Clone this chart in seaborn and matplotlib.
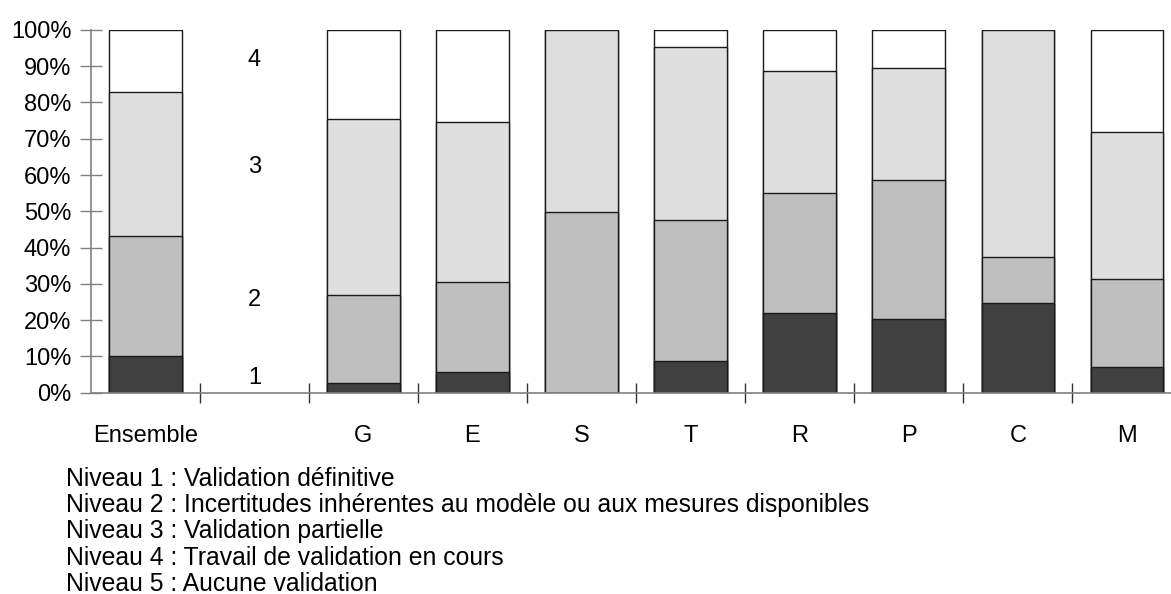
import matplotlib
matplotlib.use("Agg")
import matplotlib.pyplot as plt
import numpy as np
import pandas as pd
import seaborn as sns

# slots on the x axis (the blank one holds the level numbers)
slots = ["Ensemble", " ", "G", "E", "S", "T", "R", "P", "C", "M"]
groups = ["Ensemble", "G", "E", "S", "T", "R", "P", "C", "M"]

niveau1 = [10.1, 2.7, 5.8, 0.0, 8.7, 21.9, 20.4, 24.8, 7.2]
niveau2 = [33.1, 24.3, 24.8, 49.9, 38.9, 33.1, 38.2, 12.5, 24.2]
niveau3 = [39.8, 48.5, 44.1, 50.1, 47.7, 33.7, 30.8, 62.7, 40.5]
niveau4 = [17.0, 24.5, 25.3, 0.0, 4.7, 11.3, 10.6, 0.0, 28.1]

level_labels = ["1", "2", "3", "4"]
level_label_y = [4, 25.6, 62.3, 91.7]

legend_lines = [
    "Niveau 1 : Validation définitive",
    "Niveau 2 : Incertitudes inhérentes au modèle ou aux mesures disponibles",
    "Niveau 3 : Validation partielle",
    "Niveau 4 : Travail de validation en cours",
    "Niveau 5 : Aucune validation",
]

colors = ["#404040", "#bfbfbf", "#dfdfdf", "#ffffff"]
FS = 17

df = pd.DataFrame({"groupe": groups, "n1": niveau1, "n2": niveau2,
                   "n3": niveau3, "n4": niveau4})
df["c1"] = df["n1"]
df["c2"] = df["c1"] + df["n2"]
df["c3"] = df["c2"] + df["n3"]
df["c4"] = df["c3"] + df["n4"]

sns.set_style("white")
plt.rcParams["font.family"] = ["Liberation Sans", "DejaVu Sans"]
plt.rcParams["text.color"] = "black"
plt.rcParams["xtick.labelcolor"] = "black"
plt.rcParams["ytick.labelcolor"] = "black"

fig = plt.figure(figsize=(11.71, 5.94), dpi=100)
ax = fig.add_axes([0.0775, 0.339, 0.9314, 0.6106])

# overlay cumulative bars, tallest first
for col, color in zip(["c4", "c3", "c2", "c1"], colors[::-1]):
    sns.barplot(data=df, x="groupe", y=col, order=slots, color=color,
                width=0.665, edgecolor="#1a1a1a", linewidth=1.0,
                errorbar=None, saturation=1, ax=ax)

for lab, y in zip(level_labels, level_label_y):
    ax.text(1, y, lab, ha="center", va="center", fontsize=FS)

ax.set_xlim(-0.5, len(slots) - 0.5)
ax.set_ylim(0, 100)
ax.set_yticks(np.arange(0, 101, 10))
ax.set_yticklabels([f"{v}%" for v in range(0, 101, 10)], fontsize=FS)
ax.tick_params(axis="y", left=True, direction="inout", length=16, width=1,
               color="#808080", pad=6, labelcolor="black")

ax.set_xticks(range(len(slots)))
ax.set_xticklabels([s.strip() for s in slots], fontsize=FS)
ax.tick_params(axis="x", which="major", bottom=True, length=0, pad=23,
               labelcolor="black")
ax.set_xticks(np.arange(0.5, len(slots) - 0.5, 1), minor=True)
ax.tick_params(axis="x", which="minor", bottom=True, direction="inout",
               length=15, width=1, color="#333333")

ax.set_xlabel("")
ax.set_ylabel("")
for side in ["top", "right"]:
    ax.spines[side].set_visible(False)
for side in ["left", "bottom"]:
    ax.spines[side].set_color("#808080")
    ax.spines[side].set_linewidth(1.2)

for i, line in enumerate(legend_lines):
    fig.text(65.5 / 1171, 1 - (486 + 26.2 * i) / 594, line, fontsize=17.8,
             ha="left", va="baseline", color="black")

fig.savefig("out.png", dpi=100)
plt.close(fig)
